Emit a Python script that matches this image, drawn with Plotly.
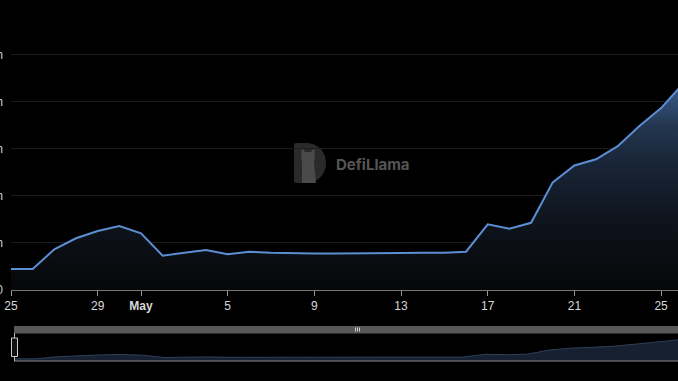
import plotly.graph_objects as go
import pandas as pd

# ---- data ----
dates = pd.date_range("2024-04-25", "2024-05-26", freq="D")
values = [4.47, 4.47, 8.66, 11.0, 12.55, 13.6, 12.06, 7.3, 7.94, 8.51,
          7.6, 8.15, 7.94, 7.8, 7.77, 7.77, 7.85, 7.85, 7.87, 7.9,
          7.9, 8.15, 13.98, 13.04, 14.3, 22.9, 26.5, 27.8, 30.6, 34.9,
          38.7, 43.8]
tick_dates = ["2024-04-25", "2024-04-29", "2024-05-01", "2024-05-05", "2024-05-09",
              "2024-05-13", "2024-05-17", "2024-05-21", "2024-05-25"]
tick_text = ["25", "29", "<b>May</b>", "5", "9", "13", "17", "21", "25"]
y_ticks = [0, 10, 20, 30, 40, 50]
y_text = ["$0", "$10m", "$20m", "$30m", "$40m", "$50m"]

W, H = 678, 381
L = 11
PW = W - L


def px(x):
    return (x - L) / PW


def py(y):
    return (H - y) / H


fig = go.Figure()

fig.add_trace(go.Scatter(
    x=dates, y=values, mode="lines",
    line=dict(color="#5b8fd4", width=2),
    fill="tozeroy",
    fillgradient=dict(type="vertical", start=0, stop=46,
                      colorscale=[[0, "#050608"], [0.3, "#0e131b"], [0.55, "#172233"],
                                  [0.75, "#22344d"], [1, "#4268a0"]]),
    hoverinfo="x+y", xaxis="x", yaxis="y", showlegend=False,
))

fig.add_trace(go.Scatter(
    x=dates, y=values, mode="lines",
    line=dict(color="#2e405a", width=1),
    fill="tozeroy", fillcolor="#162030",
    hoverinfo="skip", xaxis="x2", yaxis="y2", showlegend=False,
))

shapes = []
# slider bar
shapes.append(dict(type="rect", xref="paper", yref="paper",
                   x0=px(14), x1=1.0, y0=py(333.5), y1=py(326),
                   fillcolor="#585858", line=dict(width=0), layer="above"))
# slider grip marks
for gx in [355.5, 357.5, 359.5]:
    shapes.append(dict(type="line", xref="paper", yref="paper",
                       x0=px(gx), x1=px(gx), y0=py(331.5), y1=py(327.5),
                       line=dict(color="#d0d0d0", width=1), layer="above"))
# mini chart baseline
shapes.append(dict(type="line", xref="paper", yref="paper",
                   x0=px(14), x1=1.0, y0=py(361), y1=py(361),
                   line=dict(color="#8a8a8a", width=1), layer="above"))
# left handle line
shapes.append(dict(type="line", xref="paper", yref="paper",
                   x0=px(14.5), x1=px(14.5), y0=py(361), y1=py(333),
                   line=dict(color="#bbbbbb", width=1), layer="above"))
# left handle box
shapes.append(dict(type="rect", xref="paper", yref="paper",
                   x0=px(11.5), x1=px(17.5), y0=py(356.5), y1=py(338),
                   fillcolor="#111111", line=dict(color="#cccccc", width=1), layer="above"))


# watermark logo (D shape)
def path(points):
    s = ""
    for cmd, pts in points:
        s += cmd + " " + " ".join(f"{px(a):.5f},{py(b):.5f}" for a, b in pts) + " "
    return s + "Z"


d_path = path([
    ("M", [(296, 143)]), ("L", [(306, 143)]),
    ("C", [(318, 143), (326, 152), (326, 163)]),
    ("C", [(326, 174), (318, 183), (306, 183)]),
    ("L", [(296, 183)]), ("Q", [(294, 183), (294, 181)]),
    ("L", [(294, 145)]), ("Q", [(294, 143), (296, 143)]),
])
shapes.append(dict(type="path", xref="paper", yref="paper", path=d_path,
                   fillcolor="#2a2a2a", line=dict(width=0), layer="below"))
llama = path([
    ("M", [(302, 183)]), ("L", [(302, 162)]), ("L", [(301, 155)]),
    ("L", [(302, 148)]), ("L", [(305, 152)]), ("L", [(311, 152)]),
    ("L", [(314, 148)]), ("L", [(315, 155)]), ("L", [(314, 162)]),
    ("L", [(316, 183)]),
])
shapes.append(dict(type="path", xref="paper", yref="paper", path=llama,
                   fillcolor="#4a4a4a", line=dict(width=0), layer="below"))

fig.update_layout(
    width=W, height=H,
    margin=dict(l=L, r=0, t=0, b=0),
    paper_bgcolor="#000000", plot_bgcolor="#000000",
    font=dict(family="Liberation Sans, Arial, sans-serif", color="#cfcfcf", size=12),
    xaxis=dict(domain=[0, 1], type="date",
               range=["2024-04-25", "2024-05-25 18:45"],
               tickvals=tick_dates, ticktext=tick_text,
               ticks="outside", ticklen=5, tickcolor="#999999",
               showline=True, linecolor="#777777", linewidth=1,
               showgrid=False, zeroline=False, anchor="y",
               tickfont=dict(color="#d8d8d8", size=12), automargin=False),
    yaxis=dict(domain=[py(290), py(15)], range=[0, 58.5],
               tickvals=y_ticks, ticktext=y_text,
               showgrid=True, gridcolor="#1c1c1c", gridwidth=1,
               zeroline=False, showline=False, ticks="",
               ticklabelstandoff=7,
               tickfont=dict(color="#cfcfcf", size=12), automargin=False,
               anchor="x"),
    xaxis2=dict(domain=[px(14), 1], type="date",
                range=["2024-04-25", "2024-05-26"],
                visible=False, anchor="y2", fixedrange=True),
    yaxis2=dict(domain=[py(361), py(334)], range=[0, 56],
                visible=False, anchor="x2", fixedrange=True),
    shapes=shapes,
    annotations=[dict(text="<b>DefiLlama</b>", xref="paper", yref="paper",
                      x=px(334), y=py(164), xanchor="left", yanchor="middle",
                      showarrow=False,
                      font=dict(family="Inter, sans-serif", size=15, color="#555555"))],
    showlegend=False,
)

fig.write_html("out.html",
               config={"displayModeBar": False},
               post_script="document.body.style.margin='0';document.body.style.background='#000';")
